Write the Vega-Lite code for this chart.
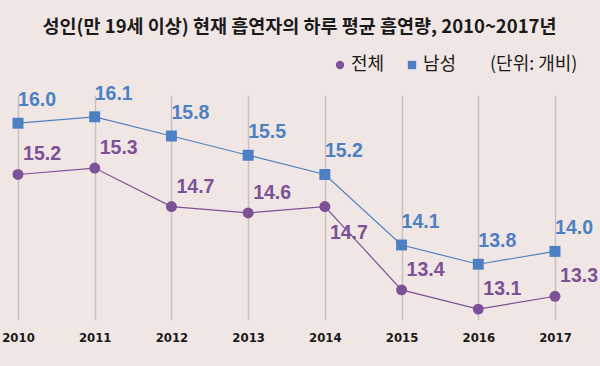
{
  "$schema": "https://vega.github.io/schema/vega-lite/v6.json",
  "width": 537,
  "height": 225,
  "autosize": {"type": "none"},
  "padding": {"left": 18, "top": 95, "right": 45, "bottom": 46},
  "background": "#f0e7e5",
  "config": {"view": {"stroke": null}, "font": "Noto Sans CJK KR"},
  "title": {
    "text": "성인(만 19세 이상) 현재 흡연자의 하루 평균 흡연량, 2010~2017년",
    "font": "Noto Sans CJK KR",
    "fontSize": 18.5,
    "fontWeight": "bold",
    "color": "#1a1a1a",
    "anchor": "middle",
    "dx": 13,
    "offset": 20
  },
  "data": {
    "values": [
      {"year": 2010, "series": "전체", "value": 15.2},
      {"year": 2011, "series": "전체", "value": 15.3},
      {"year": 2012, "series": "전체", "value": 14.7},
      {"year": 2013, "series": "전체", "value": 14.6},
      {"year": 2014, "series": "전체", "value": 14.7},
      {"year": 2015, "series": "전체", "value": 13.4},
      {"year": 2016, "series": "전체", "value": 13.1},
      {"year": 2017, "series": "전체", "value": 13.3},
      {"year": 2010, "series": "남성", "value": 16.0},
      {"year": 2011, "series": "남성", "value": 16.1},
      {"year": 2012, "series": "남성", "value": 15.8},
      {"year": 2013, "series": "남성", "value": 15.5},
      {"year": 2014, "series": "남성", "value": 15.2},
      {"year": 2015, "series": "남성", "value": 14.1},
      {"year": 2016, "series": "남성", "value": 13.8},
      {"year": 2017, "series": "남성", "value": 14.0}
    ]
  },
  "encoding": {
    "x": {
      "field": "year",
      "type": "quantitative",
      "scale": {"domain": [2010, 2017], "nice": false, "zero": false},
      "axis": {
        "title": null,
        "values": [2010, 2011, 2012, 2013, 2014, 2015, 2016, 2017],
        "format": "d",
        "domain": false,
        "ticks": false,
        "grid": true,
        "gridColor": "#c9c1c1",
        "gridWidth": 1.5,
        "labelFont": "DejaVu Sans Condensed",
        "labelFontSize": 13,
        "labelFontWeight": "bold",
        "labelColor": "#1a1a1a",
        "labelPadding": 11,
        "labelFlush": false
      }
    },
    "y": {
      "field": "value",
      "type": "quantitative",
      "scale": {"domain": [12.93, 16.44], "nice": false, "zero": false},
      "axis": null
    }
  },
  "layer": [
    {
      "transform": [{"filter": "datum.series == '전체'"}],
      "mark": {"type": "line", "strokeWidth": 1.2, "color": "#7d5197"}
    },
    {
      "transform": [{"filter": "datum.series == '남성'"}],
      "mark": {"type": "line", "strokeWidth": 1.2, "color": "#4d80c2"}
    },
    {
      "mark": {"type": "point", "filled": true, "opacity": 1, "size": 120},
      "encoding": {
        "shape": {
          "field": "series",
          "type": "nominal",
          "scale": {"domain": ["전체", "남성"], "range": ["circle", "square"]}
        },
        "color": {
          "field": "series",
          "type": "nominal",
          "scale": {"domain": ["전체", "남성"], "range": ["#7d5197", "#4d80c2"]},
          "legend": {
            "orient": "none",
            "legendX": 313,
            "legendY": -39,
            "direction": "horizontal",
            "title": "(단위: 개비)",
            "titleOrient": "right",
            "titleFont": "Noto Sans CJK KR",
            "titleFontSize": 18,
            "titleFontWeight": "normal",
            "titleColor": "#1a1a1a",
            "titlePadding": 34,
            "labelFont": "Noto Sans CJK KR",
            "labelFontSize": 18,
            "labelColor": "#1a1a1a",
            "labelOffset": 2,
            "columnPadding": 18,
            "symbolSize": 70
          }
        }
      }
    },
    {
      "transform": [{"filter": "datum.series == '남성'"}],
      "mark": {"type": "text", "fontSize": 19.5, "fontWeight": "bold", "font": "Liberation Sans", "dx": 19, "dy": -23, "align": "center", "baseline": "middle", "color": "#4d80c2"},
      "encoding": {"text": {"field": "value", "type": "quantitative", "format": ".1f"}}
    },
    {
      "transform": [{"filter": "datum.series == '전체' && datum.year != 2014"}],
      "mark": {"type": "text", "fontSize": 19.5, "fontWeight": "bold", "font": "Liberation Sans", "dx": 24, "dy": -20, "align": "center", "baseline": "middle", "color": "#7d5197"},
      "encoding": {"text": {"field": "value", "type": "quantitative", "format": ".1f"}}
    },
    {
      "transform": [{"filter": "datum.series == '전체' && datum.year == 2014"}],
      "mark": {"type": "text", "fontSize": 19.5, "fontWeight": "bold", "font": "Liberation Sans", "dx": 24, "dy": 26, "align": "center", "baseline": "middle", "color": "#7d5197"},
      "encoding": {"text": {"field": "value", "type": "quantitative", "format": ".1f"}}
    }
  ]
}
